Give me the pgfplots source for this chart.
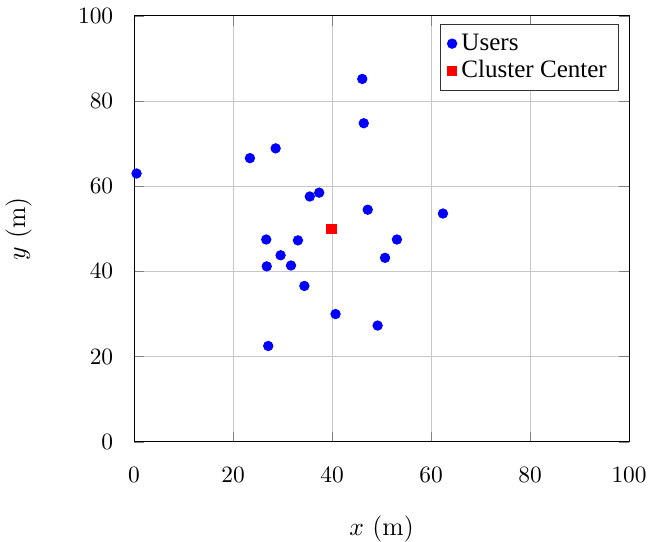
\documentclass[border=0pt]{standalone}
\usepackage{pgfplots}
\pgfplotsset{compat=1.18}
\usepackage{fontspec}
\newfontfamily\legfont{Liberation Serif}
\begin{document}
\begin{tikzpicture}
\begin{axis}[
  name=ax,
  scale only axis,
  width=211.5pt, height=182pt,
  xmin=0, xmax=100, ymin=0, ymax=100,
  xtick={0,20,...,100}, ytick={0,20,...,100},
  grid=major,
  major grid style={gray!45, line width=0.4pt},
  xticklabel style={yshift=-7.2pt},
  yticklabel style={xshift=-5.4pt},
  xlabel={$x$ (m)}, ylabel={$y$ (m)},
  label style={font=\fontsize{11.2}{13}\selectfont},
  xlabel style={yshift=-7.5pt},
  ylabel style={yshift=13pt},
  legend style={at={(1,1)}, anchor=north east, xshift=-4.3pt, yshift=-3.4pt,
    font=\fontsize{10.7}{12.5}\legfont, draw=black!80, inner xsep=3pt, inner ysep=2pt, row sep=-1pt},
  legend cell align=left,
  legend image code/.code={\draw[#1, mark size=2pt] plot coordinates {(0.1cm,0cm)};},
]
\addplot[only marks, mark=*, mark size=2pt, color=blue] coordinates {
(0.5,63.0) (23.4,66.6) (28.6,68.9) (35.5,57.6) (37.4,58.5)
(26.7,47.5) (33.1,47.3) (29.6,43.8) (26.8,41.2) (31.7,41.4)
(46.1,85.2) (46.4,74.8) (47.2,54.5) (62.4,53.6) (53.1,47.5)
(50.7,43.2) (34.4,36.6) (27.1,22.5) (40.7,30.0) (49.2,27.3)
};
\addlegendentry{Users}
\addplot[only marks, mark=square*, mark size=2pt, color=red] coordinates {
(39.9,50.0)
};
\addlegendentry{Cluster Center}
\end{axis}
\pgfresetboundingbox
\path ([xshift=-57.3pt,yshift=-42.7pt]ax.south west) rectangle ([xshift=8.1pt,yshift=6.8pt]ax.north east);
\end{tikzpicture}
\end{document}
